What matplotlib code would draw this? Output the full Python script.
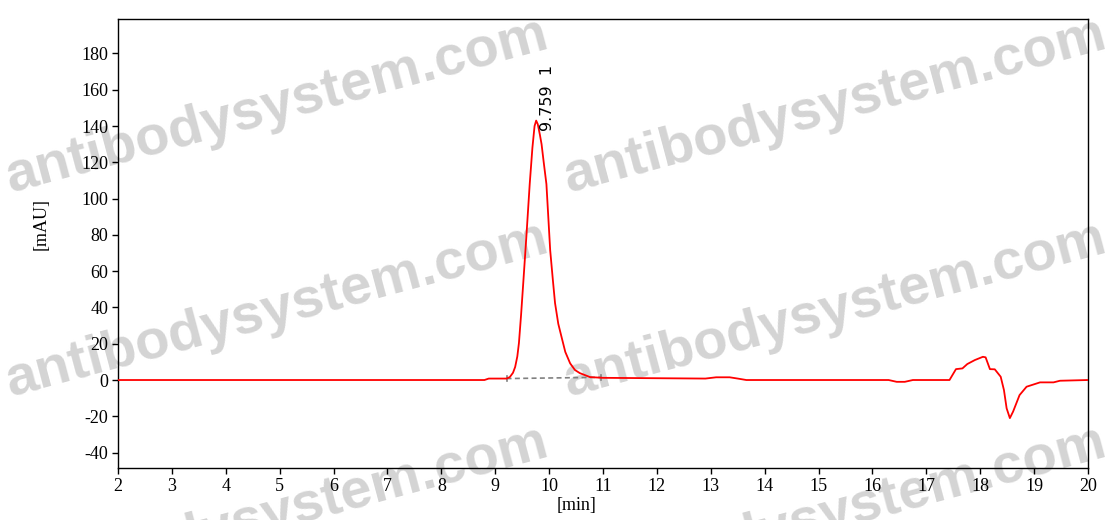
import matplotlib
matplotlib.use("Agg")
import matplotlib.pyplot as plt

plt.rcParams["axes.unicode_minus"] = False

# ---- data ----
time_min = [2.0, 8.80, 8.88, 9.21, 9.27, 9.33, 9.37, 9.41, 9.44, 9.48, 9.52, 9.58,
            9.64, 9.69, 9.73, 9.76, 9.79, 9.83, 9.86, 9.90, 9.95, 10.02, 10.07,
            10.11, 10.17, 10.23, 10.30, 10.39, 10.48, 10.57, 10.76, 11.0, 12.9,
            13.1, 13.35, 13.5, 13.66, 16.3, 16.45, 16.6, 16.75, 17.43, 17.55,
            17.67, 17.76, 17.90, 18.05, 18.10, 18.18, 18.27, 18.38, 18.44, 18.49,
            18.55, 18.61, 18.73, 18.86, 19.11, 19.36, 19.48, 20.0]
signal_mau = [0.0, 0.0, 0.8, 0.8, 1.6, 4.0, 7.2, 13.0, 20.4, 36.0, 53.4, 80.0,
              108.0, 128.0, 140.0, 143.0, 141.0, 135.0, 130.0, 120.0, 108.0, 71.5,
              55.0, 42.4, 31.0, 23.8, 15.5, 9.2, 5.5, 3.8, 1.6, 1.2, 0.8,
              1.5, 1.5, 0.8, 0.0, 0.0, -1.0, -1.0, 0.0, 0.0, 6.0,
              6.4, 8.8, 11.0, 12.8, 12.5, 6.0, 5.9, 1.8, -5.5, -15.6,
              -21.0, -17.4, -8.3, -3.7, -1.3, -1.3, -0.4, 0.0]

peak_rt = 9.759
peak_id = 1
baseline_t = [9.21, 10.97]
baseline_y = [0.8, 1.5]

x_ticks = list(range(2, 21))
y_ticks = list(range(-40, 181, 20))

watermark = "antibodysystem.com"

# ---- figure ----
fig = plt.figure(figsize=(11.05, 5.2), dpi=100)
fig.patch.set_facecolor("white")
ax = fig.add_axes([118 / 1105, 52 / 520, 970 / 1105, 449 / 520])
ax.set_facecolor("none")

# watermarks (figure pixels -> fraction)
for (px, py) in [(10, 192), (568, 192), (10, 396), (568, 396), (10, 600), (568, 600)]:
    fig.text(px / 1105, 1 - py / 520, watermark, fontsize=40.5, color="#d4d4d4",
             family="Liberation Sans", weight="bold", rotation=15,
             rotation_mode="anchor", ha="left", va="baseline", zorder=-5)

ax.plot(time_min, signal_mau, color="red", lw=1.3, zorder=3)
ax.plot(baseline_t, baseline_y, color="#808080", lw=1.2, ls=(0, (3, 2)), zorder=2)
for bt, by in zip(baseline_t, baseline_y):
    ax.plot([bt, bt], [by - 1.5, by + 1.5], color="#808080", lw=1.2, zorder=2)

ax.text(peak_rt + 0.22, 137, f"{peak_rt:.3f}  {peak_id}", rotation=90,
        ha="center", va="bottom", fontsize=11.5, family="DejaVu Sans", color="black")

ax.set_xlim(2, 20)
ax.set_ylim(-48.5, 199)
ax.set_xticks(x_ticks)
ax.set_yticks(y_ticks)
ax.tick_params(direction="out", length=4, width=1, labelsize=13, pad=3)
for lab in ax.get_xticklabels() + ax.get_yticklabels():
    lab.set_family("Liberation Serif")
for s in ax.spines.values():
    s.set_linewidth(1.0)
    s.set_color("black")

ax.set_xlabel("[min]", family="Liberation Serif", fontsize=13)
ax.set_ylabel("[mAU]", family="Liberation Serif", fontsize=13)
ax.xaxis.set_label_coords(0.473, -0.064)
ax.yaxis.set_label_coords(-0.070, 0.543)

fig.savefig("out.png", dpi=100)
